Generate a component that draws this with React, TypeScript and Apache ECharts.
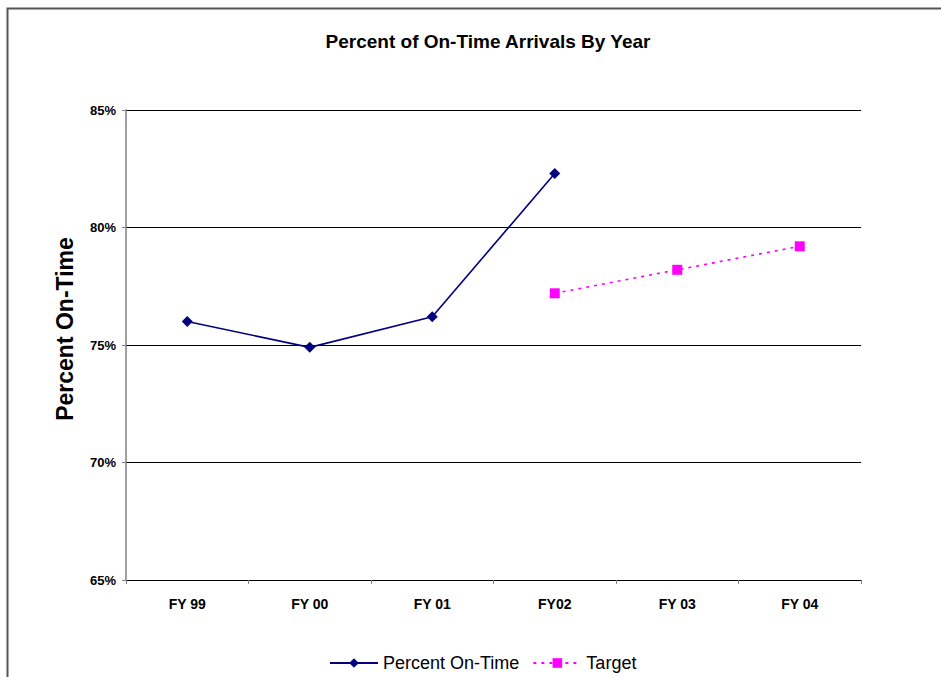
import React, { useEffect, useRef } from "react";
import * as echarts from "echarts";

const categories = ["FY 99", "FY 00", "FY 01", "FY02", "FY 03", "FY 04"];
const percentOnTime = [76.0, 74.9, 76.2, 82.3, null, null];
const target = [null, null, null, 77.2, 78.2, 79.2];
const yTicks = { min: 65, max: 85, interval: 5 };

export default function App() {
  const ref = useRef<HTMLDivElement>(null);

  useEffect(() => {
    if (!ref.current) return;
    const chart = echarts.init(ref.current, null, { renderer: "svg" });
    const font = "Arial, 'Liberation Sans', sans-serif";
    chart.setOption({
      animation: false,
      backgroundColor: "#ffffff",
      title: {
        text: "Percent of On-Time Arrivals By Year",
        left: 483,
        top: 27,
        textAlign: "center",
        textStyle: { fontFamily: font, fontSize: 19, fontWeight: "bold", color: "#000" },
      },
      graphic: [
        {
          type: "rect",
          shape: { x: 7.5, y: 8.5, width: 1200, height: 1200 },
          style: { fill: "none", stroke: "#555555", lineWidth: 2 },
          silent: true,
        },
        {
          type: "text",
          x: 65,
          y: 329,
          rotation: Math.PI / 2,
          style: {
            text: "Percent On-Time",
            fontFamily: font,
            fontSize: 23,
            fontWeight: "bold",
            fill: "#000",
            textAlign: "center",
            textVerticalAlign: "middle",
          },
          silent: true,
        },
      ],
      grid: { left: 126, right: 80, top: 110, bottom: 97, containLabel: false, outerBoundsMode: "none" },
      legend: {
        bottom: 0,
        left: 324,
        itemWidth: 48,
        itemHeight: 12,
        itemGap: 13,
        textStyle: { fontFamily: font, fontSize: 18, color: "#000" },
        data: ["Percent On-Time", "Target"],
      },
      xAxis: {
        type: "category",
        data: categories,
        boundaryGap: true,
        axisLine: { lineStyle: { color: "#000", width: 1 } },
        axisTick: { show: true, alignWithLabel: false, length: 4, lineStyle: { color: "#808080" } },
        axisLabel: {
          fontFamily: font,
          fontSize: 14,
          fontWeight: "bold",
          color: "#000",
          margin: 17,
        },
        splitLine: { show: false },
      },
      yAxis: {
        type: "value",
        min: yTicks.min,
        max: yTicks.max,
        interval: yTicks.interval,
        axisLine: { show: true, lineStyle: { color: "#808080", width: 1.5 } },
        axisTick: { show: true, inside: false, length: 4, lineStyle: { color: "#808080" } },
        axisLabel: {
          formatter: "{value}%",
          fontFamily: font,
          fontSize: 13,
          fontWeight: "bold",
          color: "#000",
          margin: 10,
        },
        splitLine: { show: true, lineStyle: { color: "#000", width: 1 } },
      },
      series: [
        {
          name: "Percent On-Time",
          type: "line",
          data: percentOnTime,
          symbol: "diamond",
          symbolSize: 11,
          connectNulls: false,
          color: "#000080",
          itemStyle: { color: "#000080" },
          lineStyle: { color: "#000080", width: 1.6 },
        },
        {
          name: "Target",
          type: "line",
          data: target,
          symbol: "rect",
          symbolSize: 10,
          color: "#ff00ff",
          itemStyle: { color: "#ff00ff" },
          lineStyle: { color: "#ff00ff", width: 1.6, type: [3, 5] },
        },
      ],
    });
    return () => chart.dispose();
  }, []);

  return (
    <div
      ref={ref}
      style={{ position: "fixed", left: 0, top: 0, width: 941, height: 677 }}
    />
  );
}
